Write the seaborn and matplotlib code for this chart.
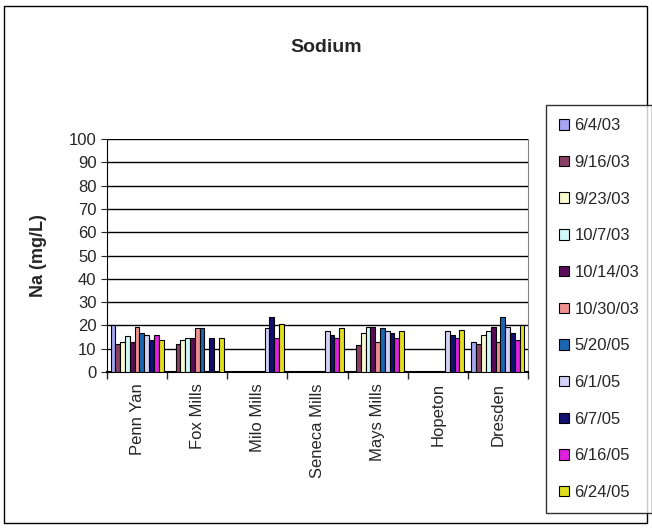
import numpy as np
import pandas as pd
import seaborn as sns
import matplotlib.pyplot as plt
from matplotlib.patches import Rectangle

sites = ['Penn Yan', 'Fox Mills', 'Milo Mills', 'Seneca Mills',
         'Mays Mills', 'Hopeton', 'Dresden']
dates = ['6/4/03', '9/16/03', '9/23/03', '10/7/03', '10/14/03', '10/30/03',
         '5/20/05', '6/1/05', '6/7/05', '6/16/05', '6/24/05']
colors = ['#9999FF', '#993366', '#FFFFCC', '#CCFFFF', '#660066', '#FF8080',
          '#0066CC', '#CCCCFF', '#000080', '#FF00FF', '#FFFF00']

nan = np.nan
# Na (mg/L) per date, one value per site (order as in `sites`)
na_values = {
    '6/4/03':   [20.0, nan, nan, nan, nan, nan, 12.8],
    '9/16/03':  [12.2, 12.0, nan, nan, 11.5, nan, 12.2],
    '9/23/03':  [12.8, 13.6, nan, nan, 16.7, nan, 16.0],
    '10/7/03':  [15.5, 14.8, nan, nan, 19.5, nan, 17.6],
    '10/14/03': [13.0, 14.8, nan, nan, 19.5, nan, 19.5],
    '10/30/03': [19.5, 18.7, nan, nan, 12.8, nan, 12.8],
    '5/20/05':  [16.7, 18.7, nan, nan, 18.7, nan, 23.5],
    '6/1/05':   [16.0, nan, 18.7, 17.6, 17.4, 17.6, 19.5],
    '6/7/05':   [13.6, 14.8, 23.5, 15.7, 16.7, 16.0, 16.7],
    '6/16/05':  [16.0, nan, 14.6, 14.4, 14.6, 14.8, 13.6],
    '6/24/05':  [13.6, 14.8, 20.8, 18.7, 17.6, 17.9, 20.0],
}

rows = []
for d in dates:
    for s, v in zip(sites, na_values[d]):
        rows.append({'site': s, 'date': d, 'na': v})
df = pd.DataFrame(rows)

sns.set_style('white')
plt.rcParams['font.family'] = ['Liberation Sans', 'DejaVu Sans']

fig = plt.figure(figsize=(6.52, 5.29), dpi=100)
fig.patches.append(Rectangle((4 / 652, 6 / 529), 643 / 652, 517 / 529,
                             transform=fig.transFigure, fill=False,
                             edgecolor='black', linewidth=1))

ax = fig.add_axes([107 / 652, 1 - 372 / 529, 421 / 652, 233 / 529])
sns.barplot(data=df, x='site', y='na', hue='date', order=sites,
            hue_order=dates, palette=colors, width=11 / 12.5,
            edgecolor='black', linewidth=0.8, errorbar=None, ax=ax,
            legend=True, zorder=3)

ax.set_ylim(0, 100)
ax.set_xlim(-0.5, len(sites) - 0.5)
ax.set_yticks(range(0, 101, 10))
ax.tick_params(axis='y', labelsize=12, length=4, direction='out', left=True)
ax.yaxis.grid(True, color='black', linewidth=1, zorder=0)
ax.set_axisbelow(True)

# ticks between categories, labels at the centres
ax.set_xticks(np.arange(len(sites)))
ax.set_xticklabels(sites, rotation=90, fontsize=12)
ax.set_xticks(np.arange(-0.5, len(sites)), minor=True)
ax.tick_params(axis='x', which='major', length=0, pad=8)
ax.tick_params(axis='x', which='minor', length=5, bottom=True,
               direction='out', width=1)

ax.spines['top'].set_visible(False)
ax.spines['right'].set_color('#808080')
ax.spines['left'].set_color('black')
ax.spines['bottom'].set_color('black')
ax.spines['bottom'].set_linewidth(1.5)

ax.set_xlabel('')
ax.set_ylabel('Na (mg/L)', fontsize=13, fontweight='bold', labelpad=16)
fig.text(0.5, 1 - 47 / 529, 'Sodium', ha='center', va='center',
         fontsize=14, fontweight='bold')

handles, labels = ax.get_legend_handles_labels()
ax.get_legend().remove()
leg = fig.legend(handles, labels, loc='upper left',
                 bbox_to_anchor=(546 / 652, 1 - 105 / 529),
                 frameon=True, fancybox=False, edgecolor='black',
                 fontsize=12, handlelength=0.6, handleheight=0.6,
                 handletextpad=0.3, labelspacing=1.3, borderpad=0.8,
                 borderaxespad=0)
leg.get_frame().set_linewidth(1)

fig.savefig('out.png', dpi=100)
